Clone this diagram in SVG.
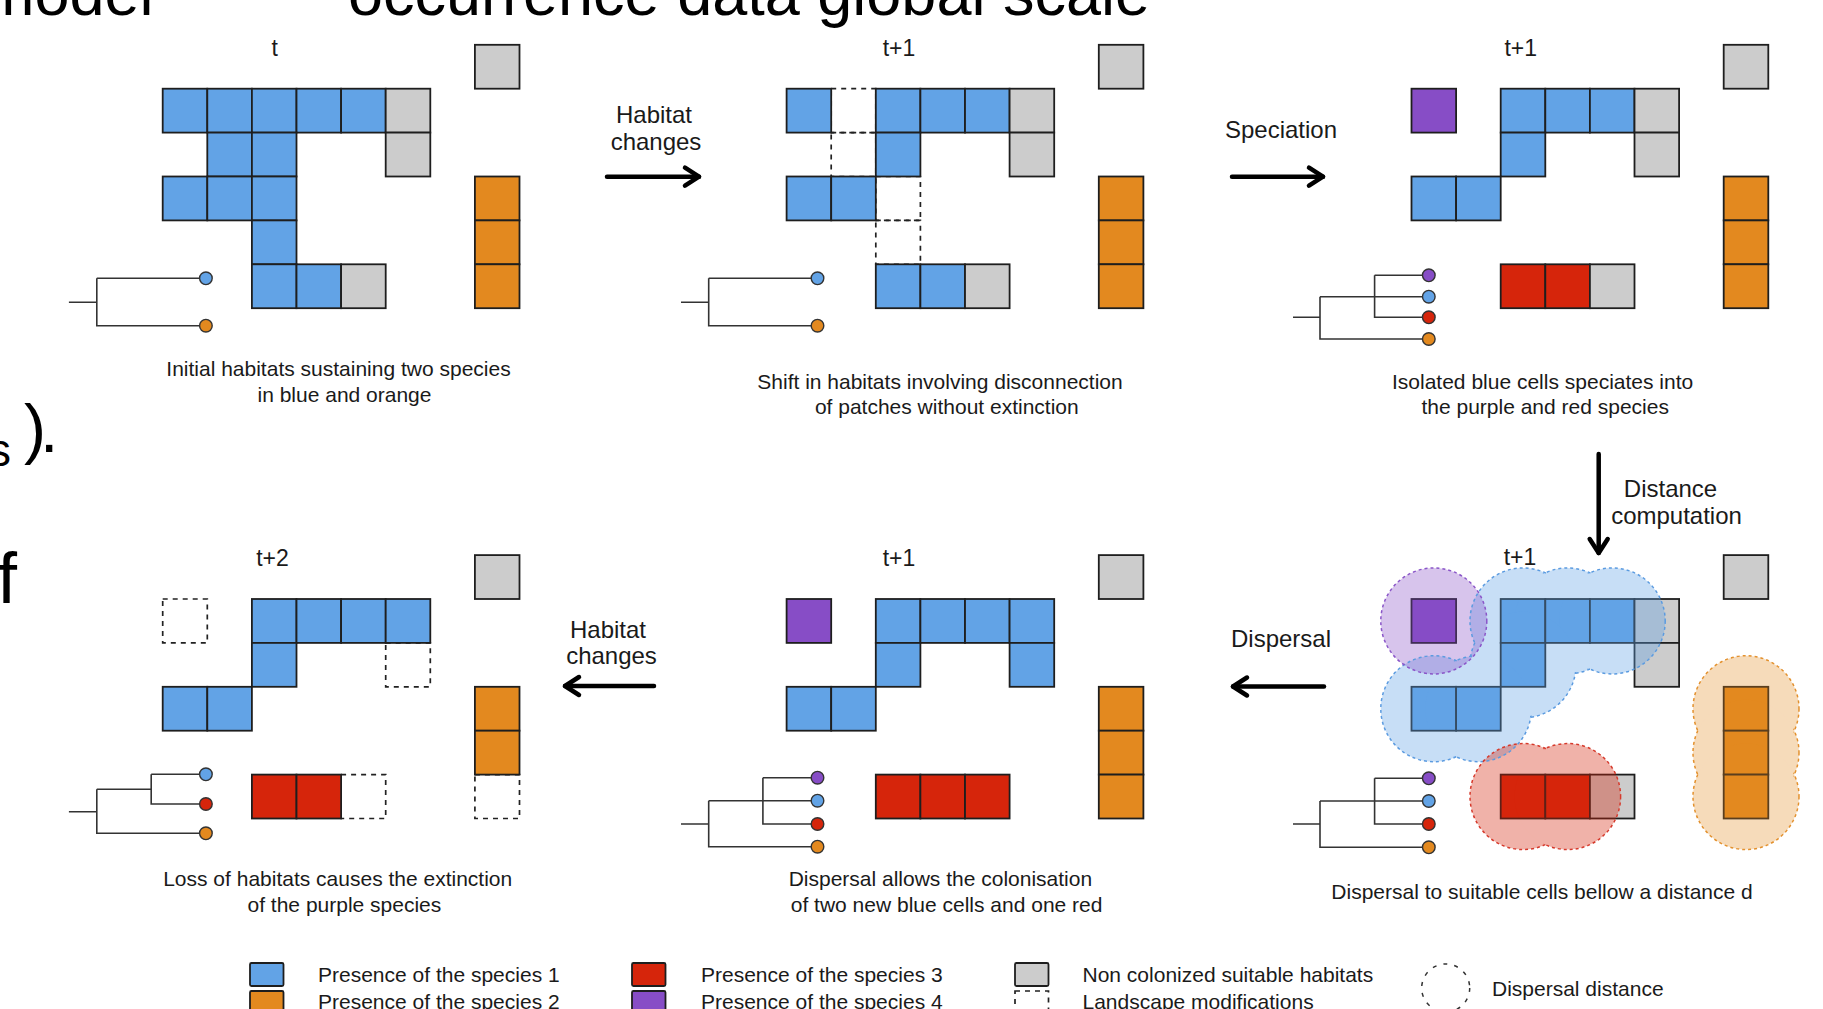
<svg xmlns="http://www.w3.org/2000/svg" width="1823" height="1009" viewBox="0 0 1823 1009">
<style>
text{font-family:"Liberation Sans",Arial,sans-serif;fill:#1a1a1a}
.big{font-size:63px;fill:#000}
.cap{font-size:21px;text-anchor:middle}
.lab{font-size:24px;text-anchor:middle}
.tl{font-size:23px;text-anchor:middle}
.lg{font-size:21px}
.c{stroke:#1e1e1e;stroke-width:1.8}
.b{fill:#62A3E6}.o{fill:#E3891F}.r{fill:#D6250B}.p{fill:#874DC6}.g{fill:#CCCCCC}
.d{fill:none;stroke:#222;stroke-width:1.7;stroke-dasharray:5 5}
.tree{fill:none;stroke:#333;stroke-width:1.6}
.tip{stroke:#333;stroke-width:1.4}
.arr{fill:none;stroke:#000;stroke-width:4.5;stroke-linecap:round}
.ring{fill:none;stroke-width:1.5;stroke-dasharray:3 3}
</style>
<defs>
<marker id="ah" markerUnits="userSpaceOnUse" markerWidth="20" markerHeight="24" refX="16" refY="12" orient="auto" overflow="visible">
<path d="M2,3 L16,12 L2,21" fill="none" stroke="#000" stroke-width="4.5" stroke-linecap="round" stroke-linejoin="round"/>
</marker>
<mask id="mB" maskUnits="userSpaceOnUse" maskContentUnits="userSpaceOnUse" x="-100" y="-100" width="600" height="420">
<rect x="-100" y="-100" width="600" height="420" fill="#fff"/>
<g fill="#000"><circle cx="111.5" cy="21.95" r="51.7"/><circle cx="156.1" cy="21.95" r="51.7"/><circle cx="200.7" cy="21.95" r="51.7"/><circle cx="111.5" cy="65.85" r="51.7"/><circle cx="22.3" cy="109.75" r="51.7"/><circle cx="66.9" cy="109.75" r="51.7"/></g>
</mask>
<mask id="mR" maskUnits="userSpaceOnUse" maskContentUnits="userSpaceOnUse" x="-100" y="-100" width="600" height="420">
<rect x="-100" y="-100" width="600" height="420" fill="#fff"/>
<g fill="#000"><circle cx="111.5" cy="197.55" r="51.7"/><circle cx="156.1" cy="197.55" r="51.7"/></g>
</mask>
<mask id="mO" maskUnits="userSpaceOnUse" maskContentUnits="userSpaceOnUse" x="-100" y="-100" width="600" height="420">
<rect x="-100" y="-100" width="600" height="420" fill="#fff"/>
<g fill="#000"><circle cx="334.5" cy="109.75" r="51.7"/><circle cx="334.5" cy="153.65" r="51.7"/><circle cx="334.5" cy="197.55" r="51.7"/></g>
</mask>
</defs>
<rect width="1823" height="1009" fill="#fff"/>

<g id="background-text">
<text class="big" x="-18" y="15">model</text>
<text class="big" x="348" y="15">occurrence data global scale</text>
<text x="-12" y="466" style="font-size:46px;fill:#000">s</text>
<text x="24" y="451" style="font-size:66px;fill:#000">)</text>
<text x="40" y="452" style="font-size:66px;fill:#000">.</text>
<text x="-3" y="603" style="font-size:72px;fill:#000">f</text>
</g>

<g id="panel-t">
<text class="tl" x="274.8" y="56">t</text>
<g transform="translate(162.7,88.7)">
<rect class="c g" x="312.2" y="-43.9" width="44.6" height="43.9"/>
<rect class="c b" x="0" y="0" width="44.6" height="43.9"/>
<rect class="c b" x="44.6" y="0" width="44.6" height="43.9"/>
<rect class="c b" x="89.2" y="0" width="44.6" height="43.9"/>
<rect class="c b" x="133.8" y="0" width="44.6" height="43.9"/>
<rect class="c b" x="178.4" y="0" width="44.6" height="43.9"/>
<rect class="c g" x="223" y="0" width="44.6" height="43.9"/>
<rect class="c b" x="44.6" y="43.9" width="44.6" height="43.9"/>
<rect class="c b" x="89.2" y="43.9" width="44.6" height="43.9"/>
<rect class="c g" x="223" y="43.9" width="44.6" height="43.9"/>
<rect class="c b" x="0" y="87.8" width="44.6" height="43.9"/>
<rect class="c b" x="44.6" y="87.8" width="44.6" height="43.9"/>
<rect class="c b" x="89.2" y="87.8" width="44.6" height="43.9"/>
<rect class="c b" x="89.2" y="131.7" width="44.6" height="43.9"/>
<rect class="c b" x="89.2" y="175.6" width="44.6" height="43.9"/>
<rect class="c b" x="133.8" y="175.6" width="44.6" height="43.9"/>
<rect class="c g" x="178.4" y="175.6" width="44.6" height="43.9"/>
<rect class="c o" x="312.2" y="87.8" width="44.6" height="43.9"/>
<rect class="c o" x="312.2" y="131.7" width="44.6" height="43.9"/>
<rect class="c o" x="312.2" y="175.6" width="44.6" height="43.9"/>
</g>
<path class="tree" d="M68.9,302.3 H96.8 M96.8,278.3 V325.7 H205.9 M96.8,278.3 H205.9"/>
<circle class="tip b" cx="205.9" cy="278.3" r="6.3"/>
<circle class="tip o" cx="205.9" cy="325.7" r="6.3"/>
<text class="cap" x="338.5" y="376">Initial habitats sustaining two species</text>
<text class="cap" x="344.5" y="402">in blue and orange</text>
</g>

<g id="panel-t1-habitat">
<text class="tl" x="899" y="56">t+1</text>
<g transform="translate(786.6,88.7)">
<rect class="d" x="44.6" y="0" width="44.6" height="43.9"/>
<rect class="d" x="44.6" y="43.9" width="44.6" height="43.9"/>
<rect class="d" x="89.2" y="87.8" width="44.6" height="43.9"/>
<rect class="d" x="89.2" y="131.7" width="44.6" height="43.9"/>
<rect class="c g" x="312.2" y="-43.9" width="44.6" height="43.9"/>
<rect class="c b" x="0" y="0" width="44.6" height="43.9"/>
<rect class="c b" x="89.2" y="0" width="44.6" height="43.9"/>
<rect class="c b" x="133.8" y="0" width="44.6" height="43.9"/>
<rect class="c b" x="178.4" y="0" width="44.6" height="43.9"/>
<rect class="c g" x="223" y="0" width="44.6" height="43.9"/>
<rect class="c b" x="89.2" y="43.9" width="44.6" height="43.9"/>
<rect class="c g" x="223" y="43.9" width="44.6" height="43.9"/>
<rect class="c b" x="0" y="87.8" width="44.6" height="43.9"/>
<rect class="c b" x="44.6" y="87.8" width="44.6" height="43.9"/>
<rect class="c b" x="89.2" y="175.6" width="44.6" height="43.9"/>
<rect class="c b" x="133.8" y="175.6" width="44.6" height="43.9"/>
<rect class="c g" x="178.4" y="175.6" width="44.6" height="43.9"/>
<rect class="c o" x="312.2" y="87.8" width="44.6" height="43.9"/>
<rect class="c o" x="312.2" y="131.7" width="44.6" height="43.9"/>
<rect class="c o" x="312.2" y="175.6" width="44.6" height="43.9"/>
</g>
<path class="tree" d="M681,302.3 H708.7 M708.7,278.3 V325.7 H817.5 M708.7,278.3 H817.5"/>
<circle class="tip b" cx="817.5" cy="278.3" r="6.3"/>
<circle class="tip o" cx="817.5" cy="325.7" r="6.3"/>
<text class="cap" x="940" y="389">Shift in habitats involving disconnection</text>
<text class="cap" x="946.8" y="414">of patches without extinction</text>
</g>

<g id="panel-t1-speciation">
<text class="tl" x="1520.8" y="56">t+1</text>
<g transform="translate(1411.5,88.7)">
<rect class="c g" x="312.2" y="-43.9" width="44.6" height="43.9"/>
<rect class="c p" x="0" y="0" width="44.6" height="43.9"/>
<rect class="c b" x="89.2" y="0" width="44.6" height="43.9"/>
<rect class="c b" x="133.8" y="0" width="44.6" height="43.9"/>
<rect class="c b" x="178.4" y="0" width="44.6" height="43.9"/>
<rect class="c g" x="223" y="0" width="44.6" height="43.9"/>
<rect class="c b" x="89.2" y="43.9" width="44.6" height="43.9"/>
<rect class="c g" x="223" y="43.9" width="44.6" height="43.9"/>
<rect class="c b" x="0" y="87.8" width="44.6" height="43.9"/>
<rect class="c b" x="44.6" y="87.8" width="44.6" height="43.9"/>
<rect class="c r" x="89.2" y="175.6" width="44.6" height="43.9"/>
<rect class="c r" x="133.8" y="175.6" width="44.6" height="43.9"/>
<rect class="c g" x="178.4" y="175.6" width="44.6" height="43.9"/>
<rect class="c o" x="312.2" y="87.8" width="44.6" height="43.9"/>
<rect class="c o" x="312.2" y="131.7" width="44.6" height="43.9"/>
<rect class="c o" x="312.2" y="175.6" width="44.6" height="43.9"/>
</g>
<path class="tree" d="M1293,317.3 H1320 M1320,296.7 V339 H1428.8 M1320,296.7 H1428.8 M1374.6,275.3 V317.3 H1428.8 M1374.6,275.3 H1428.8"/>
<circle class="tip p" cx="1428.8" cy="275.3" r="6.3"/>
<circle class="tip b" cx="1428.8" cy="296.7" r="6.3"/>
<circle class="tip r" cx="1428.8" cy="317.3" r="6.3"/>
<circle class="tip o" cx="1428.8" cy="339" r="6.3"/>
<text class="cap" x="1542.6" y="389">Isolated blue cells speciates into</text>
<text class="cap" x="1545.2" y="414">the purple and red species</text>
</g>

<g id="panel-t1-dispersal-distance">
<text class="tl" x="1520" y="565">t+1</text>
<g transform="translate(1411.5,599)">
<rect class="c g" x="312.2" y="-43.9" width="44.6" height="43.9"/>
<rect class="c p" x="0" y="0" width="44.6" height="43.9"/>
<rect class="c b" x="89.2" y="0" width="44.6" height="43.9"/>
<rect class="c b" x="133.8" y="0" width="44.6" height="43.9"/>
<rect class="c b" x="178.4" y="0" width="44.6" height="43.9"/>
<rect class="c g" x="223" y="0" width="44.6" height="43.9"/>
<rect class="c b" x="89.2" y="43.9" width="44.6" height="43.9"/>
<rect class="c g" x="223" y="43.9" width="44.6" height="43.9"/>
<rect class="c b" x="0" y="87.8" width="44.6" height="43.9"/>
<rect class="c b" x="44.6" y="87.8" width="44.6" height="43.9"/>
<rect class="c r" x="89.2" y="175.6" width="44.6" height="43.9"/>
<rect class="c r" x="133.8" y="175.6" width="44.6" height="43.9"/>
<rect class="c g" x="178.4" y="175.6" width="44.6" height="43.9"/>
<rect class="c o" x="312.2" y="87.8" width="44.6" height="43.9"/>
<rect class="c o" x="312.2" y="131.7" width="44.6" height="43.9"/>
<rect class="c o" x="312.2" y="175.6" width="44.6" height="43.9"/>
<g opacity="0.35" fill="#62A3E6"><circle cx="111.5" cy="21.95" r="53"/><circle cx="156.1" cy="21.95" r="53"/><circle cx="200.7" cy="21.95" r="53"/><circle cx="111.5" cy="65.85" r="53"/><circle cx="22.3" cy="109.75" r="53"/><circle cx="66.9" cy="109.75" r="53"/></g>
<g opacity="0.33" fill="#874DC6"><circle cx="22.3" cy="21.95" r="53"/></g>
<g opacity="0.35" fill="#D6250B"><circle cx="111.5" cy="197.55" r="53"/><circle cx="156.1" cy="197.55" r="53"/></g>
<g opacity="0.3" fill="#E3891F"><circle cx="334.5" cy="109.75" r="53"/><circle cx="334.5" cy="153.65" r="53"/><circle cx="334.5" cy="197.55" r="53"/></g>
<g class="ring" stroke="#5B9BE0" mask="url(#mB)"><circle cx="111.5" cy="21.95" r="53"/><circle cx="156.1" cy="21.95" r="53"/><circle cx="200.7" cy="21.95" r="53"/><circle cx="111.5" cy="65.85" r="53"/><circle cx="22.3" cy="109.75" r="53"/><circle cx="66.9" cy="109.75" r="53"/></g>
<g class="ring" stroke="#8A55C8"><circle cx="22.3" cy="21.95" r="53"/></g>
<g class="ring" stroke="#D63A2C" mask="url(#mR)"><circle cx="111.5" cy="197.55" r="53"/><circle cx="156.1" cy="197.55" r="53"/></g>
<g class="ring" stroke="#E3912E" mask="url(#mO)"><circle cx="334.5" cy="109.75" r="53"/><circle cx="334.5" cy="153.65" r="53"/><circle cx="334.5" cy="197.55" r="53"/></g>
</g>
<path class="tree" d="M1293,824 H1320 M1320,801 V847.3 H1428.8 M1320,801 H1428.8 M1374.6,778.3 V824 H1428.8 M1374.6,778.3 H1428.8"/>
<circle class="tip p" cx="1428.8" cy="778.3" r="6.3"/>
<circle class="tip b" cx="1428.8" cy="801" r="6.3"/>
<circle class="tip r" cx="1428.8" cy="824" r="6.3"/>
<circle class="tip o" cx="1428.8" cy="847.3" r="6.3"/>
<text class="cap" x="1542" y="899">Dispersal to suitable cells bellow a distance d</text>
</g>

<g id="panel-t1-colonisation">
<text class="tl" x="899" y="566">t+1</text>
<g transform="translate(786.6,599)">
<rect class="c g" x="312.2" y="-43.9" width="44.6" height="43.9"/>
<rect class="c p" x="0" y="0" width="44.6" height="43.9"/>
<rect class="c b" x="89.2" y="0" width="44.6" height="43.9"/>
<rect class="c b" x="133.8" y="0" width="44.6" height="43.9"/>
<rect class="c b" x="178.4" y="0" width="44.6" height="43.9"/>
<rect class="c b" x="223" y="0" width="44.6" height="43.9"/>
<rect class="c b" x="89.2" y="43.9" width="44.6" height="43.9"/>
<rect class="c b" x="223" y="43.9" width="44.6" height="43.9"/>
<rect class="c b" x="0" y="87.8" width="44.6" height="43.9"/>
<rect class="c b" x="44.6" y="87.8" width="44.6" height="43.9"/>
<rect class="c r" x="89.2" y="175.6" width="44.6" height="43.9"/>
<rect class="c r" x="133.8" y="175.6" width="44.6" height="43.9"/>
<rect class="c r" x="178.4" y="175.6" width="44.6" height="43.9"/>
<rect class="c o" x="312.2" y="87.8" width="44.6" height="43.9"/>
<rect class="c o" x="312.2" y="131.7" width="44.6" height="43.9"/>
<rect class="c o" x="312.2" y="175.6" width="44.6" height="43.9"/>
</g>
<path class="tree" d="M681,824 H708.7 M708.7,800.7 V846.7 H817.5 M708.7,800.7 H817.5 M762.9,777.7 V824 H817.5 M762.9,777.7 H817.5"/>
<circle class="tip p" cx="817.5" cy="777.7" r="6.3"/>
<circle class="tip b" cx="817.5" cy="800.7" r="6.3"/>
<circle class="tip r" cx="817.5" cy="824" r="6.3"/>
<circle class="tip o" cx="817.5" cy="846.7" r="6.3"/>
<text class="cap" x="940.4" y="886">Dispersal allows the colonisation</text>
<text class="cap" x="946.6" y="912">of two new blue cells and one red</text>
</g>

<g id="panel-t2">
<text class="tl" x="272.5" y="566">t+2</text>
<g transform="translate(162.7,599)">
<rect class="d" x="0" y="0" width="44.6" height="43.9"/>
<rect class="d" x="223" y="43.9" width="44.6" height="43.9"/>
<rect class="d" x="178.4" y="175.6" width="44.6" height="43.9"/>
<rect class="d" x="312.2" y="175.6" width="44.6" height="43.9"/>
<rect class="c g" x="312.2" y="-43.9" width="44.6" height="43.9"/>
<rect class="c b" x="89.2" y="0" width="44.6" height="43.9"/>
<rect class="c b" x="133.8" y="0" width="44.6" height="43.9"/>
<rect class="c b" x="178.4" y="0" width="44.6" height="43.9"/>
<rect class="c b" x="223" y="0" width="44.6" height="43.9"/>
<rect class="c b" x="89.2" y="43.9" width="44.6" height="43.9"/>
<rect class="c b" x="0" y="87.8" width="44.6" height="43.9"/>
<rect class="c b" x="44.6" y="87.8" width="44.6" height="43.9"/>
<rect class="c r" x="89.2" y="175.6" width="44.6" height="43.9"/>
<rect class="c r" x="133.8" y="175.6" width="44.6" height="43.9"/>
<rect class="c o" x="312.2" y="87.8" width="44.6" height="43.9"/>
<rect class="c o" x="312.2" y="131.7" width="44.6" height="43.9"/>
</g>
<path class="tree" d="M68.9,811.7 H96.8 M96.8,789.3 V833.3 H205.9 M96.8,789.3 H151.2 M151.2,774.3 V804 H205.9 M151.2,774.3 H205.9"/>
<circle class="tip b" cx="205.9" cy="774.3" r="6.3"/>
<circle class="tip r" cx="205.9" cy="804" r="6.3"/>
<circle class="tip o" cx="205.9" cy="833.3" r="6.3"/>
<text class="cap" x="337.7" y="886">Loss of habitats causes the extinction</text>
<text class="cap" x="344.4" y="912">of the purple species</text>
</g>

<g id="connectors">
<path class="arr" d="M607,176.7 H699" marker-end="url(#ah)"/>
<text class="lab" x="654" y="123">Habitat</text>
<text class="lab" x="656" y="150">changes</text>
<path class="arr" d="M1232,176.7 H1323" marker-end="url(#ah)"/>
<text class="lab" x="1281" y="138">Speciation</text>
<path class="arr" d="M1598.7,454 V553" marker-end="url(#ah)"/>
<text class="lab" x="1670.5" y="497">Distance</text>
<text class="lab" x="1676.5" y="524">computation</text>
<path class="arr" d="M1324,686.5 H1233" marker-end="url(#ah)"/>
<text class="lab" x="1281" y="647">Dispersal</text>
<path class="arr" d="M654,686 H565" marker-end="url(#ah)"/>
<text class="lab" x="608" y="638">Habitat</text>
<text class="lab" x="611.5" y="664">changes</text>
</g>

<g id="legend">
<rect class="c b" x="250" y="963" width="33.5" height="23" rx="1.5"/>
<text class="lg" x="318" y="981.5">Presence of the species 1</text>
<rect class="c o" x="250" y="991" width="33.5" height="23" rx="1.5"/>
<text class="lg" x="318" y="1009">Presence of the species 2</text>
<rect class="c r" x="632" y="963" width="33.5" height="23" rx="1.5"/>
<text class="lg" x="701" y="981.5">Presence of the species 3</text>
<rect class="c p" x="632" y="991" width="33.5" height="23" rx="1.5"/>
<text class="lg" x="701" y="1009">Presence of the species 4</text>
<rect class="c g" x="1015" y="963" width="33.5" height="23" rx="1.5"/>
<text class="lg" x="1082.5" y="981.5">Non colonized suitable habitats</text>
<rect class="d" x="1015" y="991" width="33.5" height="23"/>
<text class="lg" x="1082.5" y="1009">Landscape modifications</text>
<circle cx="1445.7" cy="988" r="24" fill="none" stroke="#333" stroke-width="1.5" stroke-dasharray="4 7"/>
<text class="lg" x="1492" y="996">Dispersal distance</text>
</g>
</svg>
